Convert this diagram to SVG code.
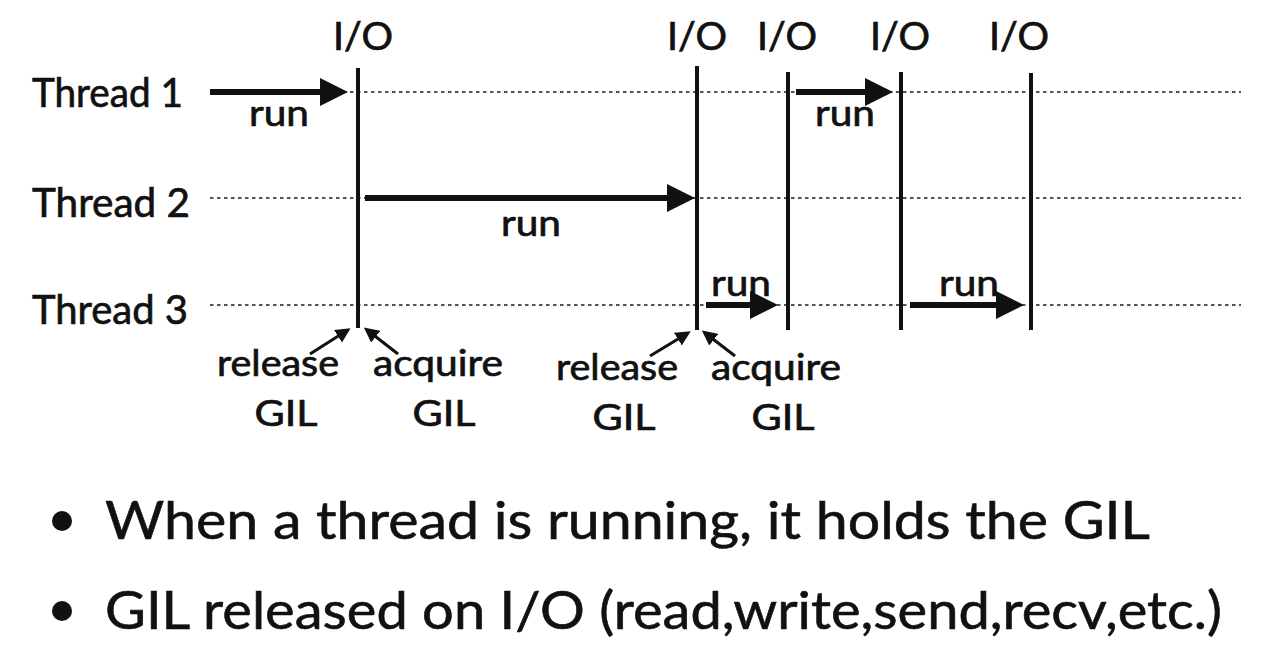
<svg xmlns="http://www.w3.org/2000/svg" width="1268" height="661" viewBox="0 0 1268 661">
<defs>
<style>
.t{font-family:Lato,"Open Sans","Liberation Sans",sans-serif;fill:#111;stroke:#111;stroke-width:0.7;font-weight:normal}
.lab{font-size:41px}
.io{font-size:39px;text-anchor:middle}
.run{font-size:36px;text-anchor:middle}
.gil{font-size:36px;text-anchor:middle}
.bul{font-size:52px;stroke-width:0.6}
.dash{stroke:#555;stroke-width:2;stroke-dasharray:3.5 3.5;fill:none}
.vl{stroke:#111;stroke-width:4;fill:none}
.ar{stroke:#111;stroke-width:6;fill:none;marker-end:url(#big)}
.sm{stroke:#111;stroke-width:3;fill:none;marker-end:url(#small)}
</style>
<marker id="big" markerUnits="userSpaceOnUse" viewBox="0 0 28 28" refX="10" refY="14" markerWidth="28" markerHeight="28" orient="auto"><path d="M0,0 L28,14 L0,28 z" fill="#111"/></marker>
<marker id="small" markerUnits="userSpaceOnUse" viewBox="0 0 15 15" refX="6" refY="7.5" markerWidth="15" markerHeight="15" orient="auto"><path d="M0,0 L15,7.5 L0,15 z" fill="#111"/></marker>
</defs>
<rect width="1268" height="661" fill="#fff"/>
<g id="threads">
<g id="thread1"><text class="t lab" x="32" y="107" textLength="151" lengthAdjust="spacingAndGlyphs">Thread 1</text><line class="dash" x1="210" y1="92" x2="1241" y2="92"/></g>
<g id="thread2"><text class="t lab" x="32" y="217" textLength="158" lengthAdjust="spacingAndGlyphs">Thread 2</text><line class="dash" x1="210" y1="198" x2="1241" y2="198"/></g>
<g id="thread3"><text class="t lab" x="32" y="324" textLength="156" lengthAdjust="spacingAndGlyphs">Thread 3</text><line class="dash" x1="210" y1="305" x2="1241" y2="305"/></g>
</g>
<g id="io-events">
<g id="io1"><text class="t io" x="363" y="50" textLength="60" lengthAdjust="spacingAndGlyphs">I/O</text><line class="vl" x1="358" y1="68" x2="358" y2="328"/></g>
<g id="io2"><text class="t io" x="697" y="50" textLength="60" lengthAdjust="spacingAndGlyphs">I/O</text><line class="vl" x1="697" y1="66" x2="697" y2="330"/></g>
<g id="io3"><text class="t io" x="787" y="50" textLength="60" lengthAdjust="spacingAndGlyphs">I/O</text><line class="vl" x1="788" y1="72" x2="788" y2="330"/></g>
<g id="io4"><text class="t io" x="900" y="50" textLength="60" lengthAdjust="spacingAndGlyphs">I/O</text><line class="vl" x1="901" y1="72" x2="901" y2="330"/></g>
<g id="io5"><text class="t io" x="1019" y="50" textLength="60" lengthAdjust="spacingAndGlyphs">I/O</text><line class="vl" x1="1031" y1="73" x2="1031" y2="330"/></g>
</g>
<g id="connectors">
<line class="ar" x1="210" y1="92" x2="330" y2="92"/>
<line class="ar" x1="365" y1="198" x2="677" y2="198"/>
<line class="ar" x1="796" y1="92" x2="875" y2="92"/>
<line class="ar" x1="706" y1="305" x2="760" y2="305"/>
<line class="ar" x1="910" y1="305" x2="1006" y2="305"/>
<line class="sm" x1="310" y1="354" x2="343" y2="333"/>
<line class="sm" x1="398" y1="354" x2="371" y2="333"/>
<line class="sm" x1="650" y1="356" x2="683" y2="336"/>
<line class="sm" x1="735" y1="356" x2="709" y2="336"/>
</g>
<g id="run-labels">
<text class="t run" x="279" y="126" textLength="60" lengthAdjust="spacingAndGlyphs">run</text>
<text class="t run" x="531" y="236" textLength="60" lengthAdjust="spacingAndGlyphs">run</text>
<text class="t run" x="845" y="126" textLength="60" lengthAdjust="spacingAndGlyphs">run</text>
<text class="t run" x="741" y="296" textLength="60" lengthAdjust="spacingAndGlyphs">run</text>
<text class="t run" x="969" y="296" textLength="60" lengthAdjust="spacingAndGlyphs">run</text>
</g>
<g id="gil-labels">
<text class="t gil" x="278" y="376" textLength="122" lengthAdjust="spacingAndGlyphs">release</text>
<text class="t gil" x="286" y="426" textLength="63" lengthAdjust="spacingAndGlyphs">GIL</text>
<text class="t gil" x="438" y="376" textLength="130" lengthAdjust="spacingAndGlyphs">acquire</text>
<text class="t gil" x="444" y="426" textLength="63" lengthAdjust="spacingAndGlyphs">GIL</text>
<text class="t gil" x="617" y="380" textLength="122" lengthAdjust="spacingAndGlyphs">release</text>
<text class="t gil" x="624" y="430" textLength="63" lengthAdjust="spacingAndGlyphs">GIL</text>
<text class="t gil" x="776" y="380" textLength="130" lengthAdjust="spacingAndGlyphs">acquire</text>
<text class="t gil" x="783" y="430" textLength="63" lengthAdjust="spacingAndGlyphs">GIL</text>
</g>
<g id="notes">
<circle cx="62" cy="521" r="10" fill="#111"/>
<text class="t bul" x="105" y="539" textLength="1045" lengthAdjust="spacingAndGlyphs">When a thread is running, it holds the GIL</text>
<circle cx="62" cy="611" r="10" fill="#111"/>
<text class="t bul" x="105" y="629" textLength="1117" lengthAdjust="spacingAndGlyphs">GIL released on I/O (read,write,send,recv,etc.)</text>
</g>
</svg>
